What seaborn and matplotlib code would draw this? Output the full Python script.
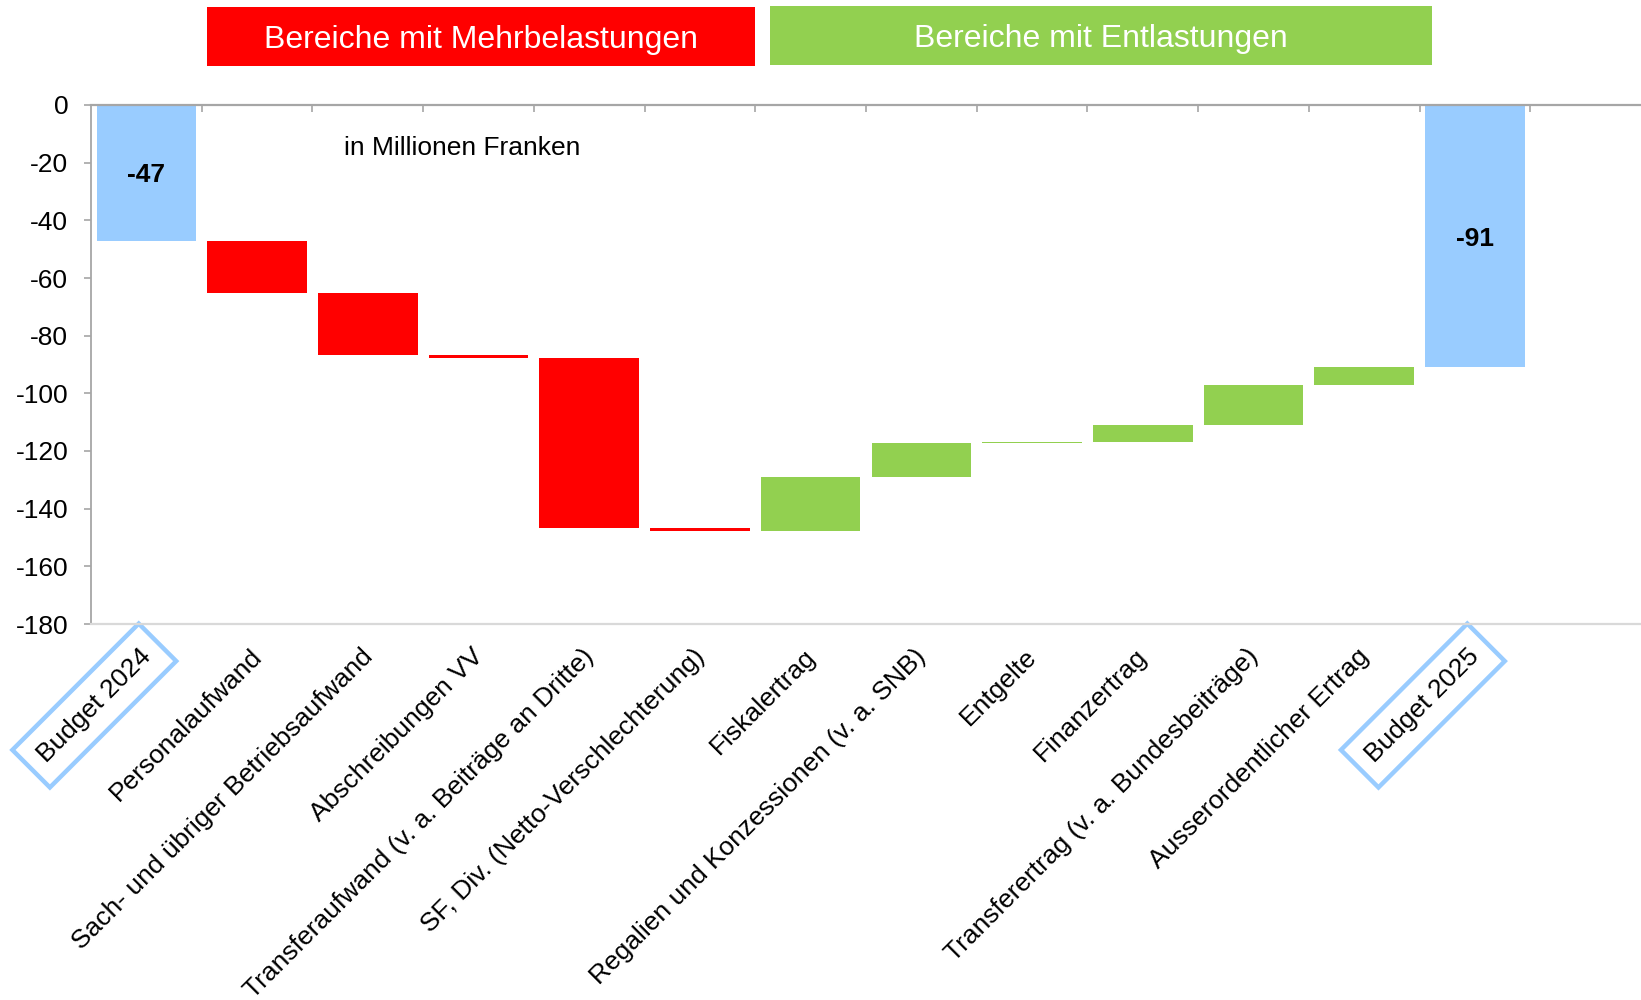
import numpy as np
import pandas as pd
import matplotlib
matplotlib.use("Agg")
import matplotlib.pyplot as plt
import seaborn as sns
from matplotlib.patches import Rectangle
from matplotlib.ticker import FixedLocator
from matplotlib.transforms import ScaledTranslation

# ---------------- data ----------------
categories = [
    "Budget 2024",
    "Personalaufwand",
    "Sach- und übriger Betriebsaufwand",
    "Abschreibungen VV",
    "Transferaufwand (v. a. Beiträge an Dritte)",
    "SF, Div. (Netto-Verschlechterung)",
    "Fiskalertrag",
    "Regalien und Konzessionen (v. a. SNB)",
    "Entgelte",
    "Finanzertrag",
    "Transferertrag (v. a. Bundesbeiträge)",
    "Ausserordentlicher Ertrag",
    "Budget 2025",
]
kinds = ["total", "mehr", "mehr", "mehr", "mehr", "mehr",
         "ent", "ent", "ent", "ent", "ent", "ent", "total"]
changes = [-47.0, -18.3, -21.5, -0.9, -59.1, -1.0,
           18.7, 11.9, 0.3, 5.9, 13.9, 6.2, -90.9]
value_labels = {"Budget 2024": "-47", "Budget 2025": "-91"}
y_ticks = [0, -20, -40, -60, -80, -100, -120, -140, -160, -180]
header_texts = ["Bereiche mit Mehrbelastungen", "Bereiche mit Entlastungen"]
unit_text = "in Millionen Franken"

kind_colors = {"total": "#99CCFF", "mehr": "#FF0000", "ent": "#92D050"}

# waterfall bottoms from the data
bottoms = []
level = 0.0
for k, c in zip(kinds, changes):
    if k == "total":
        bottoms.append(0.0)
        level = c
    else:
        bottoms.append(level)
        level += c

df = pd.DataFrame({"Kategorie": categories, "Wert": changes,
                   "Basis": bottoms, "Art": kinds})

# ---------------- style ----------------
sns.set_style("white")
plt.rcParams["font.family"] = ["Liberation Sans", "DejaVu Sans"]
plt.rcParams["axes.unicode_minus"] = False
plt.rcParams["text.color"] = "black"

fig = plt.figure(figsize=(16.41, 10.0), dpi=100)
ax = fig.add_axes([91 / 1641, 0.376, 1 - 91 / 1641, 0.519])

sns.barplot(data=df, x="Kategorie", y="Wert", order=categories,
            bottom=df["Basis"].values, width=0.9, color="#99CCFF",
            saturation=1, errorbar=None, ax=ax)
for patch, k in zip(ax.patches, kinds):
    patch.set_facecolor(kind_colors[k])
    patch.set_edgecolor("none")

ax.set_xlim(-0.5, len(categories) + 0.5)
ax.set_ylim(min(y_ticks), max(y_ticks))
ax.set_xlabel("")
ax.set_ylabel("")

# y axis
ax.set_yticks(y_ticks)
ax.set_yticklabels([str(v) for v in y_ticks], fontsize=19)
ax.tick_params(axis="y", direction="out", length=5.4, width=1.2,
               color="#A6A6A6", labelcolor="black", pad=11, left=True)

# x axis: labels at bottom, boundary ticks on top
ax.set_xticks(range(len(categories)))
ax.set_xticklabels(categories, rotation=45, ha="right", va="top",
                   rotation_mode="anchor", fontsize=19)
ax.tick_params(axis="x", which="major", length=0, pad=14.5, labelcolor="black")
ax.xaxis.set_minor_locator(FixedLocator([i + 0.5 for i in range(len(categories))]))
ax.tick_params(axis="x", which="minor", top=True, bottom=False,
               direction="in", length=5, width=1.2, color="#A6A6A6")

shift = ScaledTranslation(-5.5 / 72, 0, fig.dpi_scale_trans)
for lbl in ax.get_xticklabels():
    lbl.set_transform(lbl.get_transform() + shift)
    if lbl.get_text() in value_labels:
        lbl.set_bbox(dict(boxstyle="square,pad=0.55", fc="none",
                          ec="#99CCFF", lw=3.2))

# spines
ax.spines["top"].set_visible(True)
ax.spines["top"].set_color("#A6A6A6")
ax.spines["top"].set_linewidth(1.6)
ax.spines["left"].set_color("#A6A6A6")
ax.spines["left"].set_linewidth(1.3)
ax.spines["bottom"].set_color("#D9D9D9")
ax.spines["bottom"].set_linewidth(1.6)
ax.spines["right"].set_visible(False)

# value labels on the total bars
for i, (cat, val, base) in enumerate(zip(categories, changes, bottoms)):
    if cat in value_labels:
        ax.text(i, base + val / 2, value_labels[cat], ha="center",
                va="center_baseline", fontsize=19, fontweight="bold",
                color="black")

# unit note
fig.text(344 / 1641, 1 - 148 / 1000, unit_text, fontsize=19,
         ha="left", va="center", color="black")

# header boxes
header_boxes = [
    (207 / 1641, 1 - 66 / 1000, 548 / 1641, 59 / 1000, kind_colors["mehr"]),
    (770 / 1641, 1 - 65 / 1000, 662 / 1641, 59 / 1000, kind_colors["ent"]),
]
for (x0, y0, w, h, col), txt in zip(header_boxes, header_texts):
    fig.add_artist(Rectangle((x0, y0), w, h, transform=fig.transFigure,
                             facecolor=col, edgecolor="none"))
    fig.text(x0 + w / 2, y0 + h / 2 - 0.003, txt, color="white", fontsize=23,
             ha="center", va="center")

fig.savefig("out.png", dpi=100)
